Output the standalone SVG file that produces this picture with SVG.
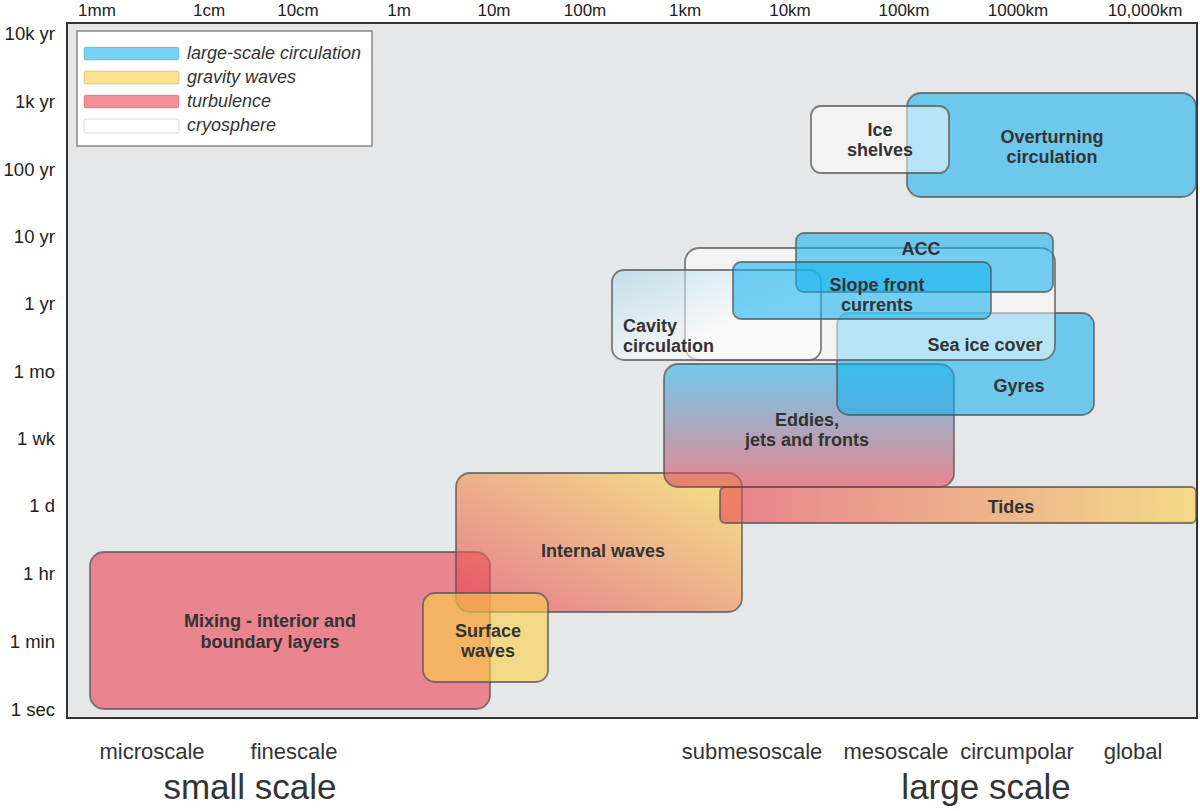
<svg xmlns="http://www.w3.org/2000/svg" width="1200" height="811" viewBox="0 0 1200 811">
<style>
.ax{font-family:"Liberation Sans",Arial,sans-serif;font-size:17px;fill:#222;text-anchor:middle}
.ay{font-family:"Liberation Sans",Arial,sans-serif;font-size:18.5px;fill:#222;text-anchor:end}
.lbl{font-family:"Liberation Sans",Arial,sans-serif;font-size:18px;font-weight:bold;fill:#333;text-anchor:middle}
.lbls{font-family:"Liberation Sans",Arial,sans-serif;font-size:18px;font-weight:bold;fill:#333;text-anchor:start}
.lg{font-family:"Liberation Sans",Arial,sans-serif;font-size:18px;font-style:italic;fill:#333}
.sc{font-family:"Liberation Sans",Arial,sans-serif;font-size:22px;fill:#333;text-anchor:middle}
.big{font-family:"Liberation Sans",Arial,sans-serif;font-size:35px;fill:#333;text-anchor:middle}
.box{stroke:#555;stroke-opacity:0.75;stroke-width:1.8}
.blue{fill:#15b1ef;fill-opacity:0.58}
.red{fill:#e94552;fill-opacity:0.6}
.yellow{fill:#fcd146;fill-opacity:0.6}
.white{fill:#ffffff;fill-opacity:0.5}
.sw{stroke:#000;stroke-opacity:0.15;stroke-width:1}
</style>
<defs>
<linearGradient id="gEddies" x1="0" y1="0" x2="0" y2="1">
<stop offset="0" stop-color="#15b1ef" stop-opacity="0.55"/>
<stop offset="1" stop-color="#e94552" stop-opacity="0.6"/>
</linearGradient>
<linearGradient id="gInternal" x1="0" y1="1" x2="1" y2="0">
<stop offset="0.1" stop-color="#e94552" stop-opacity="0.6"/>
<stop offset="0.9" stop-color="#fcd146" stop-opacity="0.6"/>
</linearGradient>
<linearGradient id="gTides" x1="0" y1="0" x2="1" y2="0">
<stop offset="0.05" stop-color="#e94552" stop-opacity="0.6"/>
<stop offset="1" stop-color="#fcd146" stop-opacity="0.6"/>
</linearGradient>
<linearGradient id="gCavity" x1="0" y1="0" x2="1" y2="1">
<stop offset="0" stop-color="#a8d8ec" stop-opacity="0.6"/>
<stop offset="0.6" stop-color="#ffffff" stop-opacity="0.55"/>
<stop offset="1" stop-color="#ffffff" stop-opacity="0.5"/>
</linearGradient>
</defs>

<g id="frame">
<rect x="67" y="23" width="1130" height="695" fill="#e6e7e8" stroke="#333" stroke-width="2"/>
</g>

<g id="top-axis">
<text class="ax" x="97" y="16">1mm</text>
<text class="ax" x="209" y="16">1cm</text>
<text class="ax" x="298" y="16">10cm</text>
<text class="ax" x="399" y="16">1m</text>
<text class="ax" x="494" y="16">10m</text>
<text class="ax" x="585" y="16">100m</text>
<text class="ax" x="685" y="16">1km</text>
<text class="ax" x="790" y="16">10km</text>
<text class="ax" x="904" y="16">100km</text>
<text class="ax" x="1018" y="16">1000km</text>
<text class="ax" x="1145" y="16">10,000km</text>
</g>

<g id="left-axis">
<text class="ay" x="55" y="40">10k yr</text>
<text class="ay" x="55" y="108">1k yr</text>
<text class="ay" x="55" y="176">100 yr</text>
<text class="ay" x="55" y="243">10 yr</text>
<text class="ay" x="55" y="310">1 yr</text>
<text class="ay" x="55" y="378">1 mo</text>
<text class="ay" x="55" y="445">1 wk</text>
<text class="ay" x="55" y="512">1 d</text>
<text class="ay" x="55" y="580">1 hr</text>
<text class="ay" x="55" y="648">1 min</text>
<text class="ay" x="55" y="716">1 sec</text>
</g>

<g id="legend">
<rect x="77" y="31" width="295" height="115" fill="#fff" stroke="#888" stroke-width="1.5"/>
<rect class="blue sw" x="84" y="47" width="95" height="13" rx="2"/>
<rect class="yellow sw" x="84" y="71" width="95" height="13" rx="2"/>
<rect class="red sw" x="84" y="95" width="95" height="13" rx="2"/>
<rect class="white sw" x="84" y="119" width="95" height="14" rx="2"/>
<text class="lg" x="187" y="59">large-scale circulation</text>
<text class="lg" x="187" y="83">gravity waves</text>
<text class="lg" x="187" y="107">turbulence</text>
<text class="lg" x="187" y="131">cryosphere</text>
</g>

<g id="mixing">
<rect class="box red" x="90" y="552" width="400" height="157" rx="14"/>
<text class="lbl" x="270" y="627">Mixing - interior and</text>
<text class="lbl" x="270" y="648">boundary layers</text>
</g>
<g id="internal-waves">
<rect class="box" fill="url(#gInternal)" x="456" y="473" width="286" height="139" rx="14"/>
<text class="lbl" x="603" y="557">Internal waves</text>
</g>
<g id="surface-waves">
<rect class="box yellow" x="423" y="593" width="125" height="89" rx="12"/>
<text class="lbl" x="488" y="637">Surface</text>
<text class="lbl" x="488" y="657">waves</text>
</g>
<g id="tides">
<rect class="box" fill="url(#gTides)" x="720" y="487" width="476" height="36" rx="5"/>
<text class="lbl" x="1011" y="513">Tides</text>
</g>
<g id="eddies">
<rect class="box" fill="url(#gEddies)" x="664" y="364" width="290" height="123" rx="14"/>
<text class="lbl" x="807" y="426">Eddies,</text>
<text class="lbl" x="807" y="446">jets and fronts</text>
</g>
<g id="gyres">
<rect class="box blue" x="837" y="313" width="257" height="102" rx="12"/>
<text class="lbl" x="1019" y="392">Gyres</text>
</g>
<g id="overturning">
<rect class="box blue" x="907" y="93" width="289" height="104" rx="14"/>
<text class="lbl" x="1052" y="143">Overturning</text>
<text class="lbl" x="1052" y="163">circulation</text>
</g>
<g id="ice-shelves">
<rect class="box white" x="811" y="106" width="138" height="67" rx="10"/>
<text class="lbl" x="880" y="136">Ice</text>
<text class="lbl" x="880" y="156">shelves</text>
</g>
<g id="sea-ice">
<rect class="box white" x="685" y="248" width="370" height="112" rx="14"/>
<text class="lbl" x="985" y="351">Sea ice cover</text>
</g>
<g id="cavity">
<rect class="box" fill="url(#gCavity)" x="612" y="270" width="209" height="90" rx="12"/>
<text class="lbls" x="623" y="332">Cavity</text>
<text class="lbls" x="623" y="352">circulation</text>
</g>
<g id="acc">
<rect class="box blue" x="796" y="233" width="257" height="59" rx="8"/>
<text class="lbl" x="921" y="255">ACC</text>
</g>
<g id="slope-front">
<rect class="box blue" x="733" y="262" width="258" height="57" rx="8"/>
<text class="lbl" x="877" y="291">Slope front</text>
<text class="lbl" x="877" y="311">currents</text>
</g>

<g id="connectors"></g>

<g id="scale-labels">
<text class="sc" x="152" y="759">microscale</text>
<text class="sc" x="294" y="759">finescale</text>
<text class="big" x="250" y="799">small scale</text>
<text class="sc" x="752" y="759">submesoscale</text>
<text class="sc" x="896" y="759">mesoscale</text>
<text class="sc" x="1017" y="759">circumpolar</text>
<text class="sc" x="1133" y="759">global</text>
<text class="big" x="986" y="799">large scale</text>
</g>
</svg>
